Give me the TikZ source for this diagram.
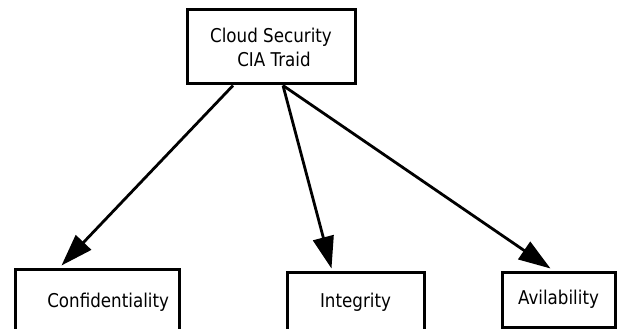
\documentclass[tikz,border=0pt]{standalone}
\usepackage{fontspec}
\setmainfont{DejaVu Sans}[FakeStretch=0.88]
\usetikzlibrary{arrows.meta,positioning,calc}
\tikzset{main base/.style={draw,line width=3pt,text centered, }, }
\tikzset{main node/.style={rectangle, draw,main base,inner sep=0pt,
    font=\fontsize{19}{24}\selectfont}, }
\tikzset{linea/.style={-{Triangle[length=32pt,width=21pt]},line width=2.8pt,draw}}

\begin{document}
\begin{tikzpicture}[x=1pt,y=-1pt]
 \useasboundingbox (0,0) rectangle (619,329);
    \node[main node,minimum width=168pt,minimum height=74pt,align=center] (1) at (271,47) {Cloud Security\\\hspace*{6pt}CIA Traid};
    \node[main node,minimum width=164pt,minimum height=66pt,text width=144pt,align=right] (2) at (97,302) {Confidentiality};
    \node[main node,minimum width=137pt,minimum height=60pt] (3) at (355.5,302) {Integrity};
    \node[main node,minimum width=113pt,minimum height=55pt] (4) at (558.5,299.5) {Avilability};

\foreach \x /\y /\a /\b in{1/2/-38pt/48pt,1/3/12pt/46pt,1/4/12pt/50pt}
  \draw[linea] ([xshift=\a]\x.south) -- ([xshift=\b,yshift=2pt]\y.north west);
%
\end{tikzpicture}
\end{document}
